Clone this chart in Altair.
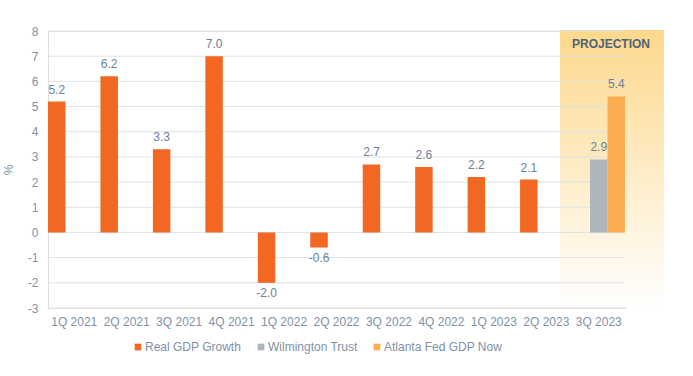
import altair as alt
import pandas as pd

quarters = ["1Q 2021", "2Q 2021", "3Q 2021", "4Q 2021", "1Q 2022", "2Q 2022",
            "3Q 2022", "4Q 2022", "1Q 2023", "2Q 2023", "3Q 2023"]
series_names = ["Real GDP Growth", "Wilmington Trust", "Atlanta Fed GDP Now"]
series_colors = ["#F26722", "#AEB6BC", "#FBAD52"]
real_gdp = [5.2, 6.2, 3.3, 7.0, -2.0, -0.6, 2.7, 2.6, 2.2, 2.1]
wilmington = [2.9]
atlanta = [5.4]
proj_quarter = "3Q 2023"
y_ticks = [-3, -2, -1, 0, 1, 2, 3, 4, 5, 6, 7, 8]

rows = []
for q, v in zip(quarters[:10], real_gdp):
    rows.append({"quarter": q, "series": series_names[0], "value": v})
rows.append({"quarter": proj_quarter, "series": series_names[1], "value": wilmington[0]})
rows.append({"quarter": proj_quarter, "series": series_names[2], "value": atlanta[0]})
df = pd.DataFrame(rows)
df["label"] = df["value"].map(lambda v: f"{v:.1f}")
grid_df = pd.DataFrame({"value": y_ticks})

FONT = "Liberation Sans"
LABEL_C = "#6A8198"
AXIS_C = "#7E92A6"
W, H = 577, 277

x_axis = alt.Axis(title=None, labelAngle=0, domain=False, ticks=False,
                  labelPadding=8, labelColor=AXIS_C, labelFontSize=12,
                  labelFont=FONT, grid=False)
y_axis = alt.Axis(title="%", values=y_ticks, domain=False, ticks=False, grid=False,
                  labelOverlap=False, labelFlush=False,
                  labelExpr="replace(datum.label, '−', '-')",
                  labelColor=AXIS_C, labelFontSize=12, labelFont=FONT, labelPadding=10,
                  titleColor=AXIS_C, titleFont=FONT,
                  titleFontSize=12, titleFontWeight="normal", titleX=-33)
x_scale = alt.Scale(domain=quarters, paddingInner=0, paddingOuter=0)
y_scale = alt.Scale(domain=[-3, 8], nice=False)

x_enc = alt.X("quarter:N", sort=quarters, scale=x_scale, axis=x_axis)
y_enc = alt.Y("value:Q", scale=y_scale, axis=y_axis)
xoff = alt.XOffset("series:N", scale=alt.Scale(domain=series_names, paddingInner=0, paddingOuter=0))

shade = alt.Chart(pd.DataFrame({"a": [0]})).mark_rect(
    color=alt.Gradient(gradient="linear", x1=0, y1=0, x2=0, y2=1,
                       stops=[alt.GradientStop(color="#FDD88C", offset=0),
                              alt.GradientStop(color="#FFFFFF", offset=1)])
).encode(x=alt.value(512), x2=alt.value(616), y=alt.value(-1), y2=alt.value(276))

grid = alt.Chart(grid_df).mark_rule(color="#DDE2E6", strokeWidth=1).encode(
    y=y_enc, x=alt.value(0), x2=alt.value(W))

proj_text = alt.Chart(pd.DataFrame({"t": ["PROJECTION"]})).mark_text(
    font=FONT, fontSize=12, fontWeight="bold", color="#4F6275"
).encode(text="t:N", x=alt.value(563), y=alt.value(13))

bars = alt.Chart(df).mark_bar().encode(
    x=x_enc,
    xOffset=xoff,
    y=y_enc,
    color=alt.Color("series:N", scale=alt.Scale(domain=series_names, range=series_colors),
                    legend=alt.Legend(title=None, orient="none", legendX=84, legendY=310,
                                      direction="horizontal",
                                      symbolType="square", symbolSize=45, labelFont=FONT,
                                      labelFontSize=12, labelColor=AXIS_C, columnPadding=13,
                                      labelOffset=1, symbolStrokeWidth=0)),
)

labels_pos = alt.Chart(df).transform_filter("datum.value >= 0").mark_text(
    font=FONT, fontSize=12, color=LABEL_C, baseline="bottom", dy=-5
).encode(x=x_enc, xOffset=xoff, y=y_enc, text="label:N")

labels_neg = alt.Chart(df).transform_filter("datum.value < 0").mark_text(
    font=FONT, fontSize=12, color=LABEL_C, baseline="top", dy=5
).encode(x=x_enc, xOffset=xoff, y=y_enc, text="label:N")

chart = alt.layer(shade, grid, bars, labels_pos, labels_neg, proj_text).properties(
    width=W, height=H,
    autosize=alt.AutoSizeParams(type="none"),
    padding={"left": 48, "top": 31, "right": 68, "bottom": 68},
).configure_view(stroke=None).configure(background="white")

chart.save("out.html", embed_options={"renderer": "svg", "actions": False})
